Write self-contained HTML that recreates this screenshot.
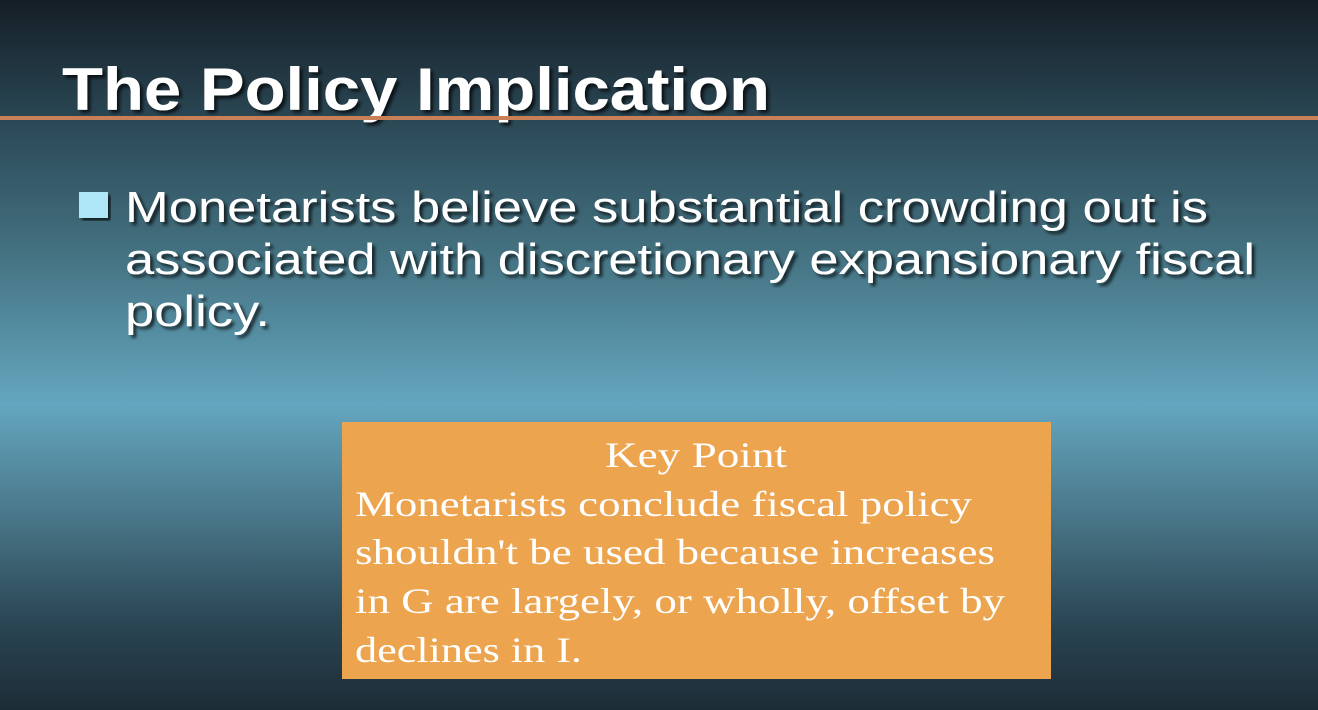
<!DOCTYPE html>
<html><head><meta charset="utf-8"><style>
html,body{margin:0;padding:0;width:1318px;height:710px;overflow:hidden}
body{background:linear-gradient(to bottom,#141e26 0%,#2c4a58 18%,#43707f 35%,#64a6bf 57%,#4e7f92 70%,#2a4553 88%,#1c2c36 100%)}
svg{position:absolute;left:0;top:0}
</style></head><body>
<svg width="1318" height="710">
<defs><filter id="sh"><feDropShadow dx="3" dy="3" stdDeviation="1.5" flood-color="#000" flood-opacity="0.7"/></filter></defs>
<text x="62" y="110" font-family="Liberation Sans, sans-serif" font-weight="bold" font-size="60" fill="#fff" textLength="708" lengthAdjust="spacingAndGlyphs" filter="url(#sh)">The Policy Implication</text>
<rect x="0" y="116" width="1318" height="4" fill="#c98056"/>
<rect x="79" y="192" width="29" height="26" fill="#aee6f8" filter="url(#sh)"/>
<g font-family="Liberation Sans, sans-serif" font-size="44" fill="#fff" filter="url(#sh)">
<text x="125" y="222" textLength="1083" lengthAdjust="spacingAndGlyphs">Monetarists believe substantial crowding out is</text>
<text x="125" y="274" textLength="1130" lengthAdjust="spacingAndGlyphs">associated with discretionary expansionary fiscal</text>
<text x="125" y="326" textLength="145" lengthAdjust="spacingAndGlyphs">policy.</text>
</g>
<rect x="342" y="422" width="709" height="257" fill="#eca44f"/>
<g font-family="Liberation Serif, serif" font-size="36" fill="#fff">
<text x="605" y="467" textLength="182" lengthAdjust="spacingAndGlyphs">Key Point</text>
<text x="355" y="516" textLength="617" lengthAdjust="spacingAndGlyphs">Monetarists conclude fiscal policy</text>
<text x="355" y="564" textLength="640" lengthAdjust="spacingAndGlyphs">shouldn't be used because increases</text>
<text x="355" y="613" textLength="650" lengthAdjust="spacingAndGlyphs">in G are largely, or wholly, offset by</text>
<text x="355" y="662" textLength="227" lengthAdjust="spacingAndGlyphs">declines in I.</text>
</g>
</svg>
</body></html>
